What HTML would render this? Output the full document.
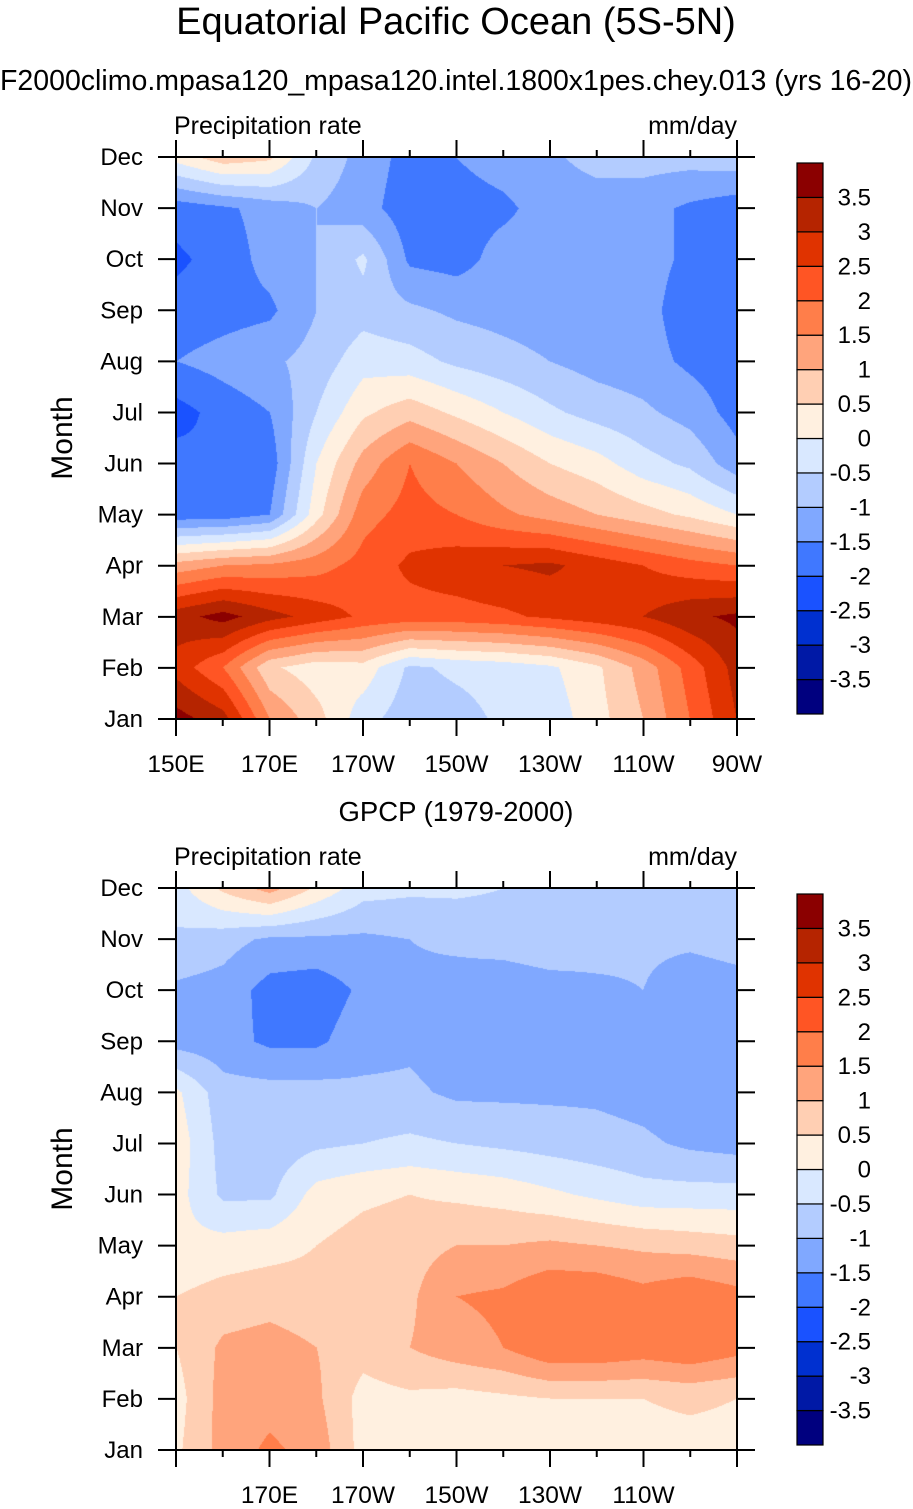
<!DOCTYPE html>
<html><head><meta charset="utf-8">
<style>
body{margin:0;background:#fff;width:913px;height:1509px;overflow:hidden;font-family:"Liberation Sans",sans-serif;}
svg text{font-family:"Liberation Sans",sans-serif;fill:#000;}
canvas{position:absolute;}
</style></head>
<body>
<canvas id="c1" width="561" height="562" style="left:176px;top:157px"></canvas>
<canvas id="c2" width="561" height="562" style="left:176px;top:888px"></canvas>
<svg id="s" width="913" height="1509" style="position:absolute;left:0;top:0">
<text x="456" y="34" font-size="38" text-anchor="middle">Equatorial Pacific Ocean (5S-5N)</text>
<text x="456" y="90" font-size="28.5" text-anchor="middle">F2000climo.mpasa120_mpasa120.intel.1800x1pes.chey.013 (yrs 16-20)</text>
<text x="456" y="821" font-size="27.5" text-anchor="middle">GPCP (1979-2000)</text>
</svg>
<script>
const months=["Jan","Feb","Mar","Apr","May","Jun","Jul","Aug","Sep","Oct","Nov","Dec"];
const lonLabels=["150E","170E","170W","150W","130W","110W","90W"];
const levels=[-3.5,-3,-2.5,-2,-1.5,-1,-0.5,0,0.5,1,1.5,2,2.5,3,3.5];
const colors=["#00007f","#0019a6","#0030d0","#1a52ff","#4078ff","#80a8ff","#b3ccff","#d9e8ff","#fff0e0","#ffcfb3","#ffa47c","#ff7e4a","#ff5524","#e03300","#b52400","#8b0000"];
const modelData=[
[3.7,3.2,1.5,0.7,-0.3,-0.8,-0.7,-0.4,-0.3,0.3,1,2,3],
[2.8,2.0,0.6,0.2,0.3,-0.6,-0.4,-0.3,-0.1,0.4,1.2,2.2,3.2],
[3.3,3.7,3.2,2.8,2.4,2.3,2.3,2.4,2.6,2.8,3,3.4,3.6],
[1.2,1.5,1.6,1.8,2.2,2.6,2.8,3.0,3.1,2.8,2.5,2.2,2.0],
[-1.8,-1.8,-1.5,0.3,1.8,2.2,2.0,1.6,1.3,1.0,0.7,0.4,0],
[-1.8,-2.0,-1.8,0,1.2,2.0,1.5,1.0,0.5,0.2,-0.3,-0.6,-1.3],
[-2.2,-1.8,-1.5,-0.5,0.4,0.8,0.4,0,-0.4,-0.7,-0.9,-1.2,-1.7],
[-1.5,-1.3,-1.1,-0.8,-0.2,-0.3,-0.6,-0.8,-1.0,-1.2,-1.3,-1.6,-1.8],
[-1.8,-1.7,-1.6,-1.0,-0.7,-0.9,-1.1,-1.2,-1.3,-1.3,-1.3,-1.8,-1.9],
[-2.1,-1.8,-1.3,-1.0,-0.4,-1.6,-1.7,-1.3,-1.3,-1.3,-1.3,-1.6,-1.9],
[-1.8,-1.6,-1.3,-1.0,-1.3,-1.8,-1.7,-1.6,-1.3,-1.3,-1.3,-1.6,-1.8],
[0.2,0.8,0.6,-0.6,-1.2,-1.7,-1.5,-1.3,-1.1,-0.8,-0.8,-0.8,-0.7]];
const gpcpData=[
[0.4,1.2,1.6,1.3,0.3,0.2,0.3,0.2,0.1,0.2,0.3,0.3,0.3],
[0.3,1.2,1.3,1.1,0.3,0.4,0.3,0.4,0.5,0.5,0.5,0.6,0.5],
[0.5,1.1,1.2,1.0,0.7,1.0,1.3,1.5,1.95,1.95,1.8,1.95,1.7],
[0.5,0.7,0.8,0.7,0.6,0.9,1.5,1.6,1.95,1.95,1.7,1.95,1.7],
[0.1,0.2,0.3,0.5,0.7,0.8,1.0,1.0,1.1,1.0,0.9,0.8,0.7],
[0.2,-0.6,-0.6,0.2,0.4,0.5,0.4,0.3,0.1,-0.1,-0.3,-0.3,-0.3],
[0.3,-0.7,-0.8,-0.6,-0.5,-0.4,-0.5,-0.6,-0.7,-0.8,-0.9,-1.1,-1.2],
[0.1,-0.8,-0.8,-0.8,-0.9,-0.9,-1.1,-1.1,-1.1,-1.1,-1.2,-1.4,-1.3],
[-1.2,-1.3,-1.6,-1.6,-1.2,-1.1,-1.3,-1.4,-1.4,-1.3,-1.1,-1.2,-1.2],
[-1.1,-1.2,-1.7,-1.8,-1.4,-1.1,-1.2,-1.3,-1.2,-1.1,-1.0,-1.3,-1.2],
[-0.6,-0.8,-1.1,-1.1,-1.1,-1.0,-0.9,-0.8,-0.7,-0.8,-0.9,-0.9,-0.8],
[-0.2,0.6,1.2,0.4,-0.3,-0.4,-0.4,-0.5,-0.6,-0.6,-0.6,-0.6,-0.6]];

function hex(c){return [parseInt(c.substr(1,2),16),parseInt(c.substr(3,2),16),parseInt(c.substr(5,2),16)];}
const rgb=colors.map(hex);
function bin(v){let i=0;while(i<levels.length&&v>=levels[i])i++;return i;}
function draw(id,data){
  const cv=document.getElementById(id),ctx=cv.getContext('2d');
  const W=cv.width,H=cv.height,img=ctx.createImageData(W,H);
  const nx=data[0].length-1,ny=data.length-1;
  for(let py=0;py<H;py++){
    const fy=(H-1-py)/(H-1)*ny;let j=Math.min(Math.floor(fy),ny-1);const ty=fy-j;
    for(let px=0;px<W;px++){
      const fx=px/(W-1)*nx;let i=Math.min(Math.floor(fx),nx-1);const tx=fx-i;
      const v=(data[j][i]*(1-tx)+data[j][i+1]*tx)*(1-ty)+(data[j+1][i]*(1-tx)+data[j+1][i+1]*tx)*ty;
      const c=rgb[bin(v)],k=(py*W+px)*4;
      img.data[k]=c[0];img.data[k+1]=c[1];img.data[k+2]=c[2];img.data[k+3]=255;
    }
  }
  ctx.putImageData(img,0,0);
}
draw('c1',modelData);draw('c2',gpcpData);

const svg=document.getElementById('s'),NS='http://www.w3.org/2000/svg';
function el(t,a,txt){const e=document.createElementNS(NS,t);for(const k in a)e.setAttribute(k,a[k]);if(txt!==undefined)e.textContent=txt;svg.appendChild(e);return e;}
function panel(top,showEnds,prefix){
  const L=176,R=737,T=top,B=top+562;
  const f=el('rect',{x:L,y:T,width:R-L,height:B-T,fill:'none',stroke:'#000','stroke-width':2});
  
  
  for(let m=0;m<12;m++){
    const y=B-m*(B-T)/11;
    el('line',{x1:L-18,y1:y,x2:L,y2:y,stroke:'#000','stroke-width':2});
    el('line',{x1:R,y1:y,x2:R+18,y2:y,stroke:'#000','stroke-width':2});
    const t=el('text',{x:143,y:y+8,'font-size':24,'text-anchor':'end'},months[m]);
    
    
  }
  for(let k=0;k<=12;k++){
    const x=L+k*(R-L)/12,len=k%2==0?17:7;
    el('line',{x1:x,y1:T-len,x2:x,y2:T,stroke:'#000','stroke-width':2});
    el('line',{x1:x,y1:B,x2:x,y2:B+len,stroke:'#000','stroke-width':2});
  }
  lonLabels.forEach((s,k)=>{
    if(!showEnds&&(k==0||k==6))return;
    const t=el('text',{x:L+k*(R-L)/6,y:B+53,'font-size':24.5,'text-anchor':'middle'},s);
    
    
  });
  let t=el('text',{x:L-2,y:T-23,'font-size':25},'Precipitation rate');
  
  
  t=el('text',{x:R,y:T-23,'font-size':25,'text-anchor':'end'},'mm/day');
  
  
  t=el('text',{x:0,y:0,'font-size':30,'text-anchor':'middle',transform:'translate(72,'+((T+B)/2)+') rotate(-90)'},'Month');
  
  
  const cT=T+6,cH=551,bh=cH/16;
  for(let b=0;b<16;b++){
    const r=el('rect',{x:797,y:cT+(15-b)*bh,width:26,height:bh,fill:colors[b],stroke:'#000','stroke-width':1.2});
    
    
  }
  levels.forEach((v,i)=>{
    const y=cT+(15-i)*bh;
    const tt=el('text',{x:871,y:y+8,'font-size':24,'text-anchor':'end'},String(v));
    
    
  });
}
panel(157,true,'model');panel(888,false,'gpcp');
</script>
</body></html>
